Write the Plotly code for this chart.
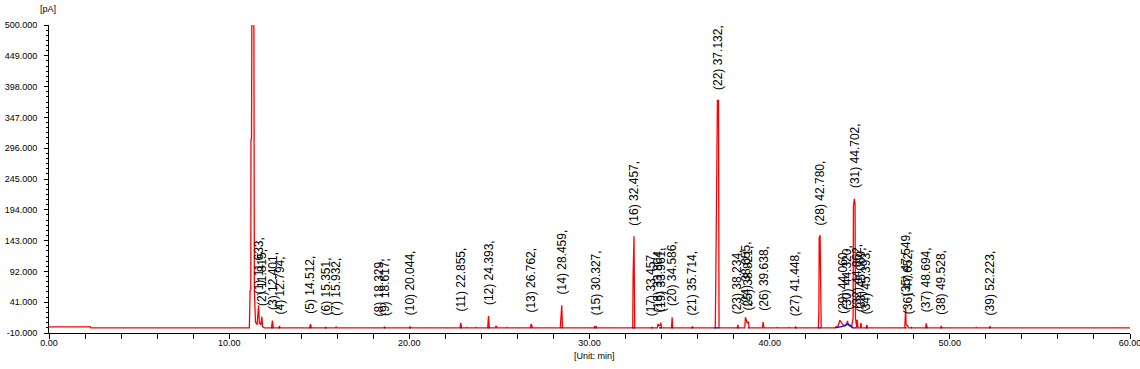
import numpy as np
import plotly.graph_objects as go

# ---------------- data ----------------
# red chromatogram (time in min, signal in pA)
red_t = [0.0, 2.30, 2.32, 11.12, 11.16, 11.20, 11.21, 11.24, 11.26, 11.37, 11.40, 11.46, 11.55, 11.633, 11.68,
         11.72, 11.76, 11.815, 11.86, 11.95,
         12.35, 12.401, 12.45, 12.75, 12.794, 12.83,
         14.46, 14.512, 14.56, 15.33, 15.351, 15.37, 15.90, 15.932, 15.97,
         18.31, 18.329, 18.35, 18.59, 18.617, 18.65, 20.01, 20.044, 20.08,
         21.45, 21.50, 21.75, 21.80, 22.81, 22.855, 22.90, 23.16, 23.18, 23.20, 23.68, 23.70, 23.72,
         24.35, 24.393, 24.44, 24.78, 24.80, 24.84, 24.86, 25.40, 25.42, 25.44,
         26.72, 26.762, 26.80, 26.84, 28.38, 28.42, 28.459, 28.50,
         30.25, 30.30, 30.327, 30.36, 30.40,
         32.40, 32.42, 32.45, 32.47, 32.49, 32.51,
         33.43, 33.457, 33.48, 33.77, 33.804, 33.84, 33.92, 33.961, 34.00,
         34.55, 34.586, 34.62, 35.68, 35.714, 35.75,
         36.98, 37.00, 37.04, 37.07, 37.10, 37.16, 37.19,
         38.20, 38.234, 38.27, 38.62, 38.655, 38.70, 38.76, 38.821, 38.86,
         39.60, 39.638, 39.68, 40.40, 40.42, 40.44, 41.06, 41.08, 41.10, 41.42, 41.448, 41.48,
         42.70, 42.73, 42.75, 42.80, 42.83, 42.86,
         43.60, 43.80, 43.90, 43.97, 44.02, 44.06, 44.12, 44.20, 44.28, 44.32, 44.36, 44.55,
         44.63, 44.65, 44.70, 44.74, 44.76, 44.80, 44.83, 44.862, 44.90,
         45.03, 45.069, 45.10, 45.36, 45.393, 45.43,
         47.50, 47.53, 47.549, 47.57, 47.62, 47.652, 47.69, 47.84, 47.86, 47.88,
         48.65, 48.694, 48.74, 49.50, 49.528, 49.56, 51.45, 51.47, 51.49, 52.20, 52.223, 52.25, 60.0]
red_v = [0.0, 0.0, -1.5, -1.5, 60, 62, 310, 312, 520, 520, 60, 8, 4, 36, 5,
         7, 3, 17, 0, -1.5,
         -1.5, 10.5, -1.5, -1.5, 1.7, -1.5,
         -1.5, 4.5, -1.5, -1.5, 0.0, -1.5, -1.5, 0.5, -1.5,
         -1.5, -0.5, -1.5, -1.5, 0.5, -1.5, -1.5, 0.5, -1.5,
         -1.5, -0.5, -0.5, -1.5, -1.5, 7, -1.5, -1.5, 0.0, -1.5, -1.5, 0.0, -1.5,
         -1.5, 18, -1.5, -1.5, 1.0, 1.0, -1.5, -1.5, 0.0, -1.5,
         -1.5, 5, 2, -1.5, -1.5, 24, 36, -1.5,
         -1.5, 1.0, 1.2, 1.0, -1.5,
         -1.5, 83, 150, 150, 74, -1.5,
         -1.5, 0.0, -1.5, -1.5, 5, 2, 3, 7, -1.5,
         -1.5, 16, -1.5, -1.5, 0.5, -1.5,
         -1.5, 48, 150, 262, 375, 375, -1.5,
         -1.5, 3.3, -1.5, -1.5, 16, 12, 6, 9, -1.5,
         -1.5, 8, -1.5, -1.5, 0.0, -1.5, -1.5, 0.0, -1.5, -1.5, 0.0, -1.5,
         -1.5, 20, 148, 152, 20, -1.5,
         -1.5, 2, 11, 8, 4, 4, 2, 2, 6, 10, 3, 0,
         15, 200, 212, 203, 15, 0, 0, 11.7, -1.5,
         -1.5, 7, -1.5, -1.5, 3.3, -1.5,
         -1.5, 33, 33, 5, 2, 3, -1.5, -1.5, 0.0, -1.5,
         -1.5, 6, -1.5, -1.5, 1.7, -1.5, -1.5, 0.0, -1.5, -1.5, 1.5, -1.5, -1.5]

# blue trace: short integration segments at peak bases plus a low hump
blue_t = [12.35, 12.45, None, 12.76, 12.83, None, 14.47, 14.55, None, 15.31, 15.39, None, 18.58, 18.66, None,
          20.00, 20.08, None, 22.81, 22.90, None, 24.35, 24.44, None, 26.72, 26.80, None, 28.42, 28.50, None,
          30.25, 30.40, None, 32.38, 32.53, None, 33.42, 33.49, None, 33.86, 34.00, None, 34.55, 34.62, None,
          35.67, 35.75, None, 36.92, 37.20, None, 38.20, 38.27, None, 38.78, 38.86, None, 41.40, 41.49, None,
          42.68, 42.86, None, 43.62, 43.85, 44.05, 44.20, 44.35, 44.50, 44.60, 44.87, None,
          45.33, 45.43, None, 47.50, 47.60, None, 47.84, 47.88, None, 48.66, 48.74, None, 49.49, 49.57, None,
          52.19, 52.26]
blue_v = [-1.5, -1.5, None, -1.5, -1.5, None, -1.5, -1.5, None, -1.5, -1.5, None, -1.5, -1.5, None,
          -1.5, -1.5, None, -1.5, -1.5, None, -1.5, -1.5, None, -1.5, -1.5, None, -1.5, -1.5, None,
          -1.5, -1.5, None, -1.5, -1.5, None, -1.5, -1.5, None, -1.5, -1.5, None, -1.5, -1.5, None,
          -1.5, -1.5, None, -1.5, -1.5, None, -1.5, -1.5, None, -1.5, -1.5, None, -1.5, -1.5, None,
          -1.5, -1.5, None, -1.5, -0.5, 1.0, 3.0, 5.0, 2.0, -1.5, -1.5, None,
          -1.5, -1.5, None, -1.5, -1.5, None, -1.5, -1.5, None, -1.5, -1.5, None, -1.5, -1.5, None,
          -1.5, -1.5]

# labelled peaks: number and retention time (min)
peak_no = list(range(1, 40))
peak_rt = [11.633, 11.815, 12.401, 12.794, 14.512, 15.351, 15.932, 18.329, 18.617, 20.044,
           22.855, 24.393, 26.762, 28.459, 30.327, 32.457, 33.457, 33.804, 33.961, 34.586,
           35.714, 37.132, 38.234, 38.655, 38.821, 39.638, 41.448, 42.780, 44.060, 44.320,
           44.702, 44.862, 45.069, 45.393, 47.549, 47.652, 48.694, 49.528, 52.223]

# axis ticks
x_ticks = [0, 10, 20, 30, 40, 50, 60]
x_tick_text = ["0.00", "10.00", "20.00", "30.00", "40.00", "50.00", "60.00"]
y_ticks = [-10, 41, 92, 143, 194, 245, 296, 347, 398, 449, 500]
y_tick_text = ["-10.000", "41.000", "92.000", "143.000", "194.000", "245.000",
               "296.000", "347.000", "398.000", "449.000", "500.000"]

# ---------------- figure ----------------
FONT = "Liberation Sans, Arial, sans-serif"
fig = go.Figure()
fig.add_trace(go.Scatter(x=red_t, y=red_v, mode="lines",
                         line=dict(color="#FF0000", width=1.3), hoverinfo="skip"))
fig.add_trace(go.Scatter(x=blue_t, y=blue_v, mode="lines", connectgaps=False,
                         line=dict(color="#0000FF", width=1.3), hoverinfo="skip"))

apex = np.interp(peak_rt, red_t, red_v)
for n, rt, h in zip(peak_no, peak_rt, apex):
    fig.add_annotation(x=rt, y=h, text=f"({n}) {rt:.3f},", textangle=-90,
                       showarrow=False, xanchor="center", yanchor="bottom", yshift=9,
                       font=dict(family=FONT, size=12, color="black"))

PLOT_W, PLOT_H = 1081, 308
fig.add_annotation(xref="paper", yref="paper", x=-1 / PLOT_W, y=1 + 16 / PLOT_H, text="[pA]",
                   showarrow=False, xanchor="center", yanchor="middle",
                   font=dict(family=FONT, size=9, color="black"))
fig.add_annotation(xref="paper", yref="paper", x=(595 - 49.5) / PLOT_W, y=-23 / PLOT_H, text="[Unit: min]",
                   showarrow=False, xanchor="center", yanchor="middle",
                   font=dict(family=FONT, size=9, color="black"))

fig.update_layout(
    width=1140, height=369,
    margin=dict(l=49, r=10, t=25, b=36),
    paper_bgcolor="white", plot_bgcolor="white",
    showlegend=False, hovermode=False,
    font=dict(family=FONT, size=9, color="black"),
    xaxis=dict(range=[0, 60], showgrid=False, zeroline=False, showline=True, automargin=False,
               linecolor="black", linewidth=1, ticks="outside", ticklen=5, tickcolor="black",
               tickvals=x_ticks, ticktext=x_tick_text, ticklabelstandoff=-4,
               ticklabeloverflow="allow",
               tickfont=dict(family=FONT, size=9, color="black"),
               minor=dict(dtick=2, tick0=0, ticks="outside", ticklen=5, tickcolor="black", showgrid=False)),
    yaxis=dict(range=[-10, 500], showgrid=False, zeroline=False, showline=True, automargin=False,
               linecolor="black", linewidth=1, ticks="outside", ticklen=4, tickcolor="black",
               tickvals=y_ticks, ticktext=y_tick_text,
               tickfont=dict(family=FONT, size=9, color="black"),
               ticklabelstandoff=5, ticklabeloverflow="allow",
               minor=dict(dtick=8.5, tick0=-10, ticks="outside", ticklen=2, tickcolor="black", showgrid=False)),
)

# remove the default 8 px page margin so the figure fills the window exactly
fig.write_html("out.html", config={"displayModeBar": False},
               post_script="document.body.style.margin='0';")
